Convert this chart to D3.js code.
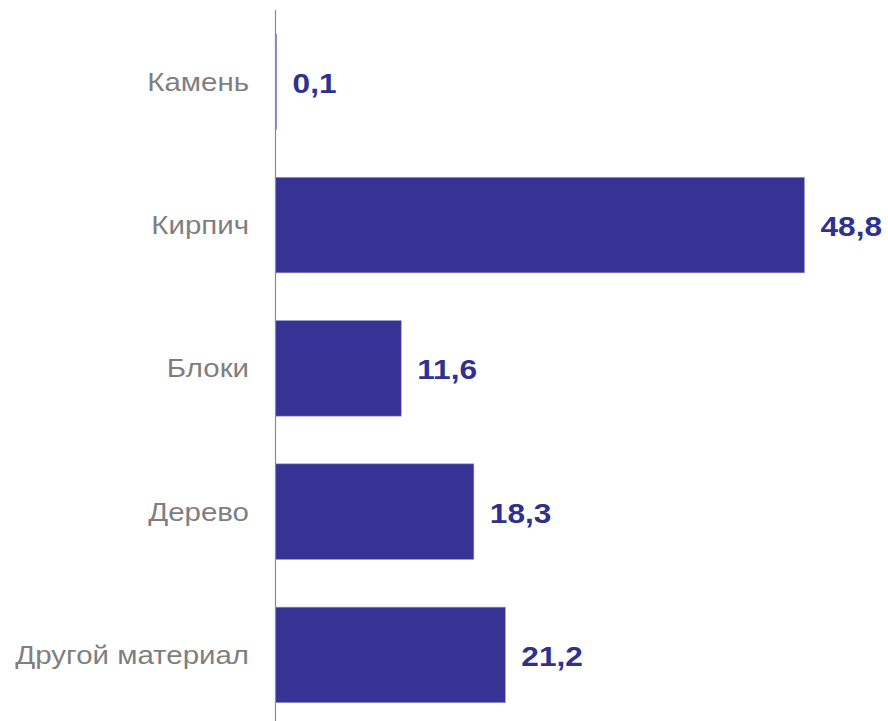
<!DOCTYPE html>
<html><head><meta charset="utf-8">
<script src="https://cdn.jsdelivr.net/npm/d3@7"></script>
<style>body{margin:0;background:#fff}svg{display:block}</style>
</head><body>
<script>
const categories = ["Камень","Кирпич","Блоки","Дерево","Другой материал"];
const values = [0.1, 48.8, 11.6, 18.3, 21.2];
const labels = ["0,1","48,8","11,6","18,3","21,2"];

const W = 888, H = 721;
const SX = 1.13, SXC = 1.155;
const svg = d3.select("body").append("svg").attr("width", W).attr("height", H);
const x = d3.scaleLinear().domain([0, 50]).range([275.5, 275.5 + 542]);
const y = d3.scaleBand().domain(categories).range([10.1, 726.6]).paddingInner(0.333).paddingOuter(0.1667);

svg.selectAll("rect.bar").data(values).enter().append("rect")
  .attr("x", x(0))
  .attr("y", (d,i) => y(categories[i]))
  .attr("width", d => Math.max(1, x(d) - x(0)))
  .attr("height", y.bandwidth())
  .attr("fill", "#363394")
  .attr("stroke", "#9a98d0").attr("stroke-width", 0.6);

svg.append("line").attr("x1", 275.5).attr("x2", 275.5).attr("y1", 10).attr("y2", H)
  .attr("stroke", "#8a8a8a").attr("stroke-width", 1.2);

svg.selectAll("text.cat").data(categories).enter().append("text")
  .attr("transform", d => `translate(249,${y(d) + y.bandwidth()/2 + 9}) scale(${SXC},1)`)
  .attr("text-anchor", "end")
  .attr("font-family", "Liberation Sans, Arial, sans-serif")
  .attr("font-size", 25.5)
  .attr("fill", "#7f7f7f")
  .text(d => d);

svg.selectAll("text.val").data(values).enter().append("text")
  .attr("transform", (d,i) => `translate(${x(d) + 16},${y(categories[i]) + y.bandwidth()/2 + 11}) scale(${SX},1)`)
  .attr("font-family", "Liberation Sans, Arial, sans-serif")
  .attr("font-weight", "bold")
  .attr("font-size", 28)
  .attr("fill", "#2e3190")
  .text((d,i) => labels[i]);
</script>
</body></html>
